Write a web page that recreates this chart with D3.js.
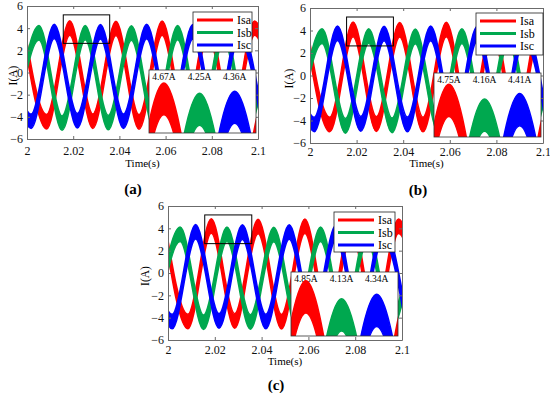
<!DOCTYPE html>
<html>
<head>
<meta charset="utf-8">
<script src="https://cdn.jsdelivr.net/npm/d3@7"></script>
<style>
  body { margin: 0; background: #fff; }
  text { font-family: "Liberation Serif", "Times New Roman", serif; }
</style>
</head>
<body>
<svg id="fig" width="550" height="393"></svg>
<script>
// Chart data
// ================================
var xTicks = [2, 2.02, 2.04, 2.06, 2.08, 2.1];
var yTicks = [-6, -4, -2, 0, 2, 4, 6];
var seriesNames = ["Isa", "Isb", "Isc"];

// times of the peaks / troughs of each phase (s)
var timesIsa = [1.9985, 2.0085, 2.0185, 2.0285, 2.0385, 2.0485, 2.0585, 2.0685, 2.0785, 2.0885, 2.0985, 2.1085];
var timesIsb = [1.9952, 2.0052, 2.0152, 2.0252, 2.0352, 2.0452, 2.0552, 2.0652, 2.0752, 2.0852, 2.0952, 2.1052];
var timesIsc = [1.9918, 2.0018, 2.0118, 2.0218, 2.0318, 2.0418, 2.0518, 2.0618, 2.0718, 2.0818, 2.0918, 2.1018];

// outer edge of the ripple band at those peaks / troughs (A)
var isaA = [4.6, -5.1, 4.67, -5.05, 4.63, -5.12, 4.65, -5.07, 4.62, -5.1, 4.65, -5.05];
var isbA = [-5.2, 4.23, -5.22, 4.25, -5.17, 4.21, -5.2, 4.25, -5.15, 4.22, -5.19, 4.24];
var iscA = [4.35, -5.05, 4.36, -5.0, 4.33, -5.05, 4.35, -5.03, 4.32, -5.05, 4.35, -5.01];

var isaB = [4.7, -5.0, 4.75, -4.97, 4.72, -5.01, 4.74, -4.98, 4.71, -5.0, 4.73, -4.97];
var isbB = [-5.1, 4.15, -5.13, 4.16, -5.08, 4.13, -5.11, 4.15, -5.07, 4.14, -5.1, 4.15];
var iscB = [4.39, -5.0, 4.41, -4.95, 4.38, -5.0, 4.4, -4.97, 4.37, -5.0, 4.4, -4.95];

var isaC = [4.8, -5.0, 4.85, -4.95, 4.82, -5.01, 4.84, -4.97, 4.81, -5.0, 4.83, -4.95];
var isbC = [-5.05, 4.11, -5.07, 4.13, -5.03, 4.1, -5.05, 4.12, -5.02, 4.11, -5.05, 4.12];
var iscC = [4.32, -5.0, 4.34, -4.95, 4.31, -5.0, 4.33, -4.97, 4.3, -5.0, 4.33, -4.95];

// full height of the switching ripple band (A)
var rippleBand = 1.3;

// zoomed window shown in the inset
var zoomTime = [2.0157, 2.0358];
var zoomCurrent = [2.63, 5.2];

var peakLabelsA = ["4.67A", "4.25A", "4.36A"];
var peakLabelsB = ["4.75A", "4.16A", "4.41A"];
var peakLabelsC = ["4.85A", "4.13A", "4.34A"];
var peakTimes = [2.0185, 2.0252, 2.0318];

// Layout
// ================================
var colors = ["#ff0000", "#00a84f", "#0000ff"];
var axisColor = "#6b6b6b";

var panels = [
  { tag: "(a)", x: 27, y: 6, w: 231, h: 133, xPad: 7, titleDy: 28,
    legend: { x: 193, y: 12, w: 59, h: 40 },
    inset: { x: 149, y: 70, w: 107, h: 63 },
    caption: { x: 133, y: 194 }, yLabelX: 17,
    series: [isaA, isbA, iscA], peaks: peakLabelsA },
  { tag: "(b)", x: 310, y: 8, w: 233, h: 135, xPad: 4, titleDy: 24,
    legend: { x: 476, y: 13, w: 67, h: 42 },
    inset: { x: 434, y: 73, w: 107, h: 64 },
    caption: { x: 418, y: 195 }, yLabelX: 293,
    series: [isaB, isbB, iscB], peaks: peakLabelsB },
  { tag: "(c)", x: 168, y: 206, w: 234, h: 134, xPad: 5, titleDy: 25,
    legend: { x: 334, y: 212, w: 61, h: 40 },
    inset: { x: 291, y: 272, w: 107, h: 64 },
    caption: { x: 276, y: 390 }, yLabelX: 149,
    series: [isaC, isbC, iscC], peaks: peakLabelsC }
];

var seriesTimes = [timesIsa, timesIsb, timesIsc];

var svg = d3.select("#fig");
svg.append("rect").attr("width", 550).attr("height", 393).attr("fill", "#fff");

function bandPath(xs, ys, times, values) {
  var pts = times.map(function(t, i) { return { t: t, v: values[i] }; });
  return d3.area()
    .curve(d3.curveMonotoneX)
    .x(d => xs(d.t))
    .y0(d => ys(d.v > 0 ? d.v - rippleBand : d.v))
    .y1(d => ys(d.v > 0 ? d.v : d.v + rippleBand))(pts);
}

function drawWaves(g, xs, ys, p) {
  p.series.forEach(function(values, k) {
    g.append("path")
      .attr("d", bandPath(xs, ys, seriesTimes[k], values))
      .attr("fill", colors[k])
      .attr("stroke", colors[k])
      .attr("stroke-width", 1.5)
      .attr("stroke-linejoin", "round");
  });
}

panels.forEach(function(p, pi) {
  var x = d3.scaleLinear().domain([2, 2.1]).range([p.x, p.x + p.w]);
  var y = d3.scaleLinear().domain([-6, 6]).range([p.y + p.h, p.y]);

  var clipId = "clip" + pi;
  svg.append("clipPath").attr("id", clipId)
    .append("rect").attr("x", p.x).attr("y", p.y).attr("width", p.w).attr("height", p.h);

  var g = svg.append("g");

  // waveforms
  var waves = g.append("g").attr("clip-path", "url(#" + clipId + ")");
  drawWaves(waves, x, y, p);

  // zoom box
  g.append("rect")
    .attr("x", x(zoomTime[0])).attr("y", y(zoomCurrent[1]))
    .attr("width", x(zoomTime[1]) - x(zoomTime[0]))
    .attr("height", y(zoomCurrent[0]) - y(zoomCurrent[1]))
    .attr("fill", "none").attr("stroke", "#000").attr("stroke-width", 1);

  // axes, MATLAB box style with inward ticks
  var bottomAxis = d3.axisBottom(x).tickValues(xTicks).tickSize(-3).tickSizeOuter(0).tickPadding(p.xPad)
    .tickFormat(d => String(d));
  var topAxis = d3.axisTop(x).tickValues(xTicks).tickSize(-3).tickSizeOuter(0).tickFormat("");
  var leftAxis = d3.axisLeft(y).tickValues(yTicks).tickSize(-3).tickSizeOuter(0).tickPadding(4)
    .tickFormat(d => d < 0 ? "\u2212" + Math.abs(d) : String(d));
  var rightAxis = d3.axisRight(y).tickValues(yTicks).tickSize(-3).tickSizeOuter(0).tickFormat("");

  var axes = [
    g.append("g").attr("transform", `translate(0, ${p.y + p.h})`).call(bottomAxis),
    g.append("g").attr("transform", `translate(0, ${p.y})`).call(topAxis),
    g.append("g").attr("transform", `translate(${p.x}, 0)`).call(leftAxis),
    g.append("g").attr("transform", `translate(${p.x + p.w}, 0)`).call(rightAxis)
  ];
  axes.forEach(function(a) {
    a.select(".domain").attr("stroke", axisColor);
    a.selectAll(".tick line").attr("stroke", axisColor);
    a.selectAll(".tick text")
      .attr("fill", "#111")
      .style("font-family", '"Liberation Serif", serif')
      .style("font-size", "12px");
  });

  // legend
  var lg = g.append("g");
  lg.append("rect")
    .attr("x", p.legend.x).attr("y", p.legend.y)
    .attr("width", p.legend.w).attr("height", p.legend.h)
    .attr("fill", "#fff").attr("stroke", "#222").attr("stroke-width", 0.8);
  seriesNames.forEach(function(name, k) {
    var ly = p.legend.y + 8 + k * 12.5;
    lg.append("line")
      .attr("x1", p.legend.x + 4).attr("x2", p.legend.x + 40)
      .attr("y1", ly).attr("y2", ly)
      .attr("stroke", colors[k]).attr("stroke-width", 3);
    lg.append("text")
      .attr("x", p.legend.x + 44).attr("y", ly + 4)
      .style("font-size", "12px")
      .text(name);
  });

  // inset with the zoomed peaks
  var ix = d3.scaleLinear().domain(zoomTime).range([p.inset.x, p.inset.x + p.inset.w]);
  var iy = d3.scaleLinear().domain(zoomCurrent).range([p.inset.y + p.inset.h, p.inset.y]);
  var insetClip = "inset" + pi;
  svg.append("clipPath").attr("id", insetClip)
    .append("rect").attr("x", p.inset.x).attr("y", p.inset.y)
    .attr("width", p.inset.w).attr("height", p.inset.h);

  var ig = g.append("g");
  ig.append("rect")
    .attr("x", p.inset.x).attr("y", p.inset.y)
    .attr("width", p.inset.w).attr("height", p.inset.h)
    .attr("fill", "#fff");
  p.peaks.forEach(function(lbl, k) {
    ig.append("text")
      .attr("x", ix(peakTimes[k])).attr("y", p.inset.y + 10)
      .attr("text-anchor", "middle")
      .style("font-size", "9.5px")
      .text(lbl);
  });
  var iw = ig.append("g").attr("clip-path", "url(#" + insetClip + ")");
  drawWaves(iw, ix, iy, p);
  ig.append("rect")
    .attr("x", p.inset.x).attr("y", p.inset.y)
    .attr("width", p.inset.w).attr("height", p.inset.h)
    .attr("fill", "none").attr("stroke", "#333").attr("stroke-width", 0.8);

  // axis titles and caption
  g.append("text")
    .attr("x", p.x + p.w / 2).attr("y", p.y + p.h + p.titleDy)
    .attr("text-anchor", "middle")
    .style("font-size", "11px")
    .text("Time(s)");
  g.append("text")
    .attr("transform", `translate(${p.yLabelX}, ${p.y + p.h / 2 + 3}) rotate(-90)`)
    .attr("text-anchor", "middle")
    .style("font-size", "11.5px")
    .text("I(A)");
  g.append("text")
    .attr("x", p.caption.x).attr("y", p.caption.y)
    .attr("text-anchor", "middle")
    .style("font-size", "15px")
    .style("font-weight", "bold")
    .text(p.tag);
});
</script>
</body>
</html>
